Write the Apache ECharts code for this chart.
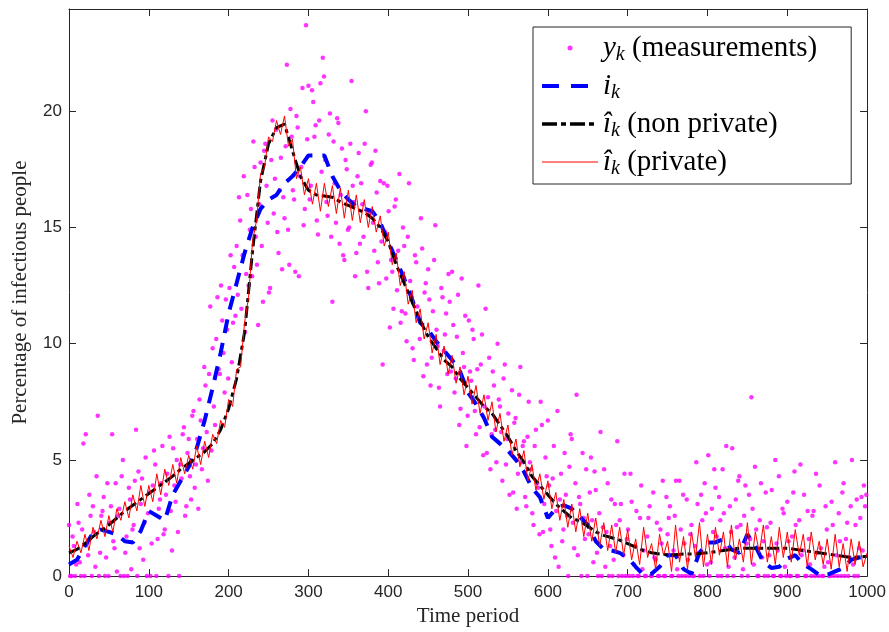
<!DOCTYPE html>
<html><head><meta charset="utf-8">
<script src="https://cdn.jsdelivr.net/npm/echarts@6/dist/echarts.min.js"></script>
<style>html,body{margin:0;padding:0;background:#fff}#c{width:889px;height:632px}</style>
</head><body><div id="c"></div>
<script>
// time step of each sampled array
const measStep = 3;
const measOffsetB = 1.5;
const lineStep = 10;
const privStep = 5;

// y_k measurements (x = 0, 3, 6, ...)
const measurements = [
 2.2,0,1.3,0.5,2.3,0,5.7,6.1,0.9,2.6,
 3.0,0.4,6.9,1.0,2.8,0,4.0,2.3,6.1,1.2,
 0.2,2.9,4.3,0,1.7,3.8,0.3,2.2,6.3,4.5,
 3.1,0.7,5.1,2.7,0,3.9,4.8,1.6,3.3,5.6,
 2.0,4.4,6.0,1.1,3.9,5.0,0,4.2,6.4,3.0,
 5.9,3.3,7.1,4.8,2.9,6.7,5.5,8.2,4.1,11.6,
 9.8,6.5,12.0,8.7,11.0,7.9,10.6,12.4,9.2,13.3,
 14.2,16.3,11.5,17.2,13.0,12.5,15.8,18.7,14.6,10.8,
 17.8,11.8,18.6,15.2,12.4,19.6,17.1,14.8,16.6,13.2,
 15.4,22.0,13.4,18.9,16.2,19.8,12.9,17.6,15.1,23.7,
 21.1,16.8,20.4,19.4,14.7,21.2,22.3,17.9,15.5,19.9,
 11.8,16.9,19.7,14.3,18.4,13.6,17.5,15.0,21.3,16.1,
 13.9,18.2,16.9,14.6,20.0,12.4,17.7,15.2,18.3,13.5,
 17.0,9.1,14.8,16.8,10.7,13.1,15.9,12.3,17.3,11.4,
 14.2,10.1,16.9,12.0,9.3,13.5,11.1,15.4,8.6,12.6,
 13.2,8.2,11.4,15.1,9.9,7.3,12.0,10.4,8.7,11.8,
 13.1,7.9,10.3,6.5,12.8,9.0,5.6,11.0,8.4,10.2,
 6.1,12.5,9.1,5.2,11.5,7.7,4.6,8.8,6.3,10.0,
 7.3,4.1,9.1,5.9,3.5,8.0,6.6,2.9,7.8,4.9,
 5.8,3.0,7.5,4.6,2.2,6.3,3.8,7.5,1.9,5.1,
 6.7,2.0,4.2,0.8,7.1,3.3,1.5,5.3,2.6,4.7,
 5.9,1.2,7.8,3.4,0,2.5,4.6,1.8,5.1,0.6,
 3.7,0,6.2,2.1,0.4,4.0,1.3,0,3.1,5.8,
 2.4,0,4.4,1.6,0,3.2,0.5,2.8,0,3.9,
 1.1,0,2.5,0,3.6,0.7,0,2.0,4.1,0,
 1.8,3.0,0,2.6,0.3,4.1,0,1.4,3.3,0,
 2.2,0,4.9,1.0,3.5,0,2.7,5.2,0.6,1.9,
 3.8,0,2.4,4.6,1.2,0,3.0,5.5,0.8,2.1,
 4.3,0,2.6,1.4,3.5,7.7,0.5,2.0,0,4.0,
 1.5,3.6,0,2.3,0,5.0,1.1,0,2.9,0.4,
 3.2,0,1.7,4.5,0,2.4,0.9,3.5,0,1.6,
 0,2.8,4.4,0,1.2,0,3.0,0.6,0,2.2,
 4.9,0,1.5,3.6,0,2.3,0.8,5.0,0,3.3,
 1.2,3.4,3.9,3.5
];

// more y_k measurements (x = 1.5, 4.5, 7.5, ...)
const measurementsB = [
 0,1.7,0,3.1,0.6,2.0,0,1.4,3.5,0,
 1.9,4.3,0,2.6,3.4,0.8,0,3.0,1.5,4.0,
 2.6,0,5.0,1.0,0,3.3,2.0,4.1,0,1.2,
 4.2,2.3,0,3.6,1.4,5.4,0,2.9,4.0,1.8,
 3.5,0,2.8,5.5,3.2,1.9,4.8,6.1,2.6,5.3,
 4.3,6.9,3.8,5.9,7.6,4.6,9.0,6.2,8.7,5.4,
 7.3,10.2,8.9,12.5,9.6,11.9,8.5,13.8,10.9,11.2,
 12.1,15.3,13.8,10.5,16.4,14.9,12.9,17.6,13.4,16.0,
 14.2,18.3,16.8,12.2,17.9,15.6,19.2,13.9,18.0,16.3,
 18.5,14.9,20.1,16.6,13.1,19.3,17.2,21.0,15.8,18.8,
 16.2,20.9,18.9,15.3,19.6,17.4,21.5,16.1,19.0,14.6,
 18.7,15.2,19.5,16.4,13.8,17.9,14.9,18.6,16.8,12.9,
 17.2,14.3,16.0,18.6,13.1,15.6,17.8,14.0,16.5,12.6,
 14.4,16.9,12.8,15.7,13.6,11.5,16.2,14.0,10.9,15.0,
 11.3,14.6,12.7,9.8,13.8,11.6,10.2,14.1,12.2,9.1,
 11.9,9.4,13.6,10.6,8.1,12.4,9.7,11.3,13.0,8.8,
 10.8,8.5,12.1,7.2,9.6,11.2,6.9,8.8,10.6,7.1,
 8.9,6.4,10.4,7.3,5.3,9.4,6.1,8.2,4.9,7.6,
 6.2,8.5,4.8,7.0,5.3,3.6,6.8,4.4,9.0,5.6,
 3.4,6.0,4.9,2.7,5.6,4.0,1.8,6.5,3.1,4.3,
 3.9,1.3,5.6,2.8,0.4,4.4,2.0,3.5,0,6.1,
 2.3,4.0,0.9,3.1,5.3,1.6,0,3.6,2.4,4.5,
 1.0,2.7,0,4.6,1.9,0,3.3,0.7,2.2,0,
 3.1,0.9,0,2.0,4.4,0,1.3,0,2.5,0.3,
 0,1.7,3.0,0,0.8,2.3,0,1.4,0,3.4,
 2.5,0,1.1,4.1,0,2.0,3.5,0,0.7,1.8,
 0,1.3,3.1,0,2.4,4.0,0.5,0,2.9,4.6,
 1.7,3.4,0,2.7,5.6,0.4,1.9,0,3.3,4.1,
 2.2,0.3,3.9,0,1.6,2.9,4.7,0,2.4,0.8,
 0,2.1,0.9,3.7,0,1.4,4.3,0,2.7,0,
 1.5,0,3.6,2.2,0,4.8,1.1,0,2.8,0.5,
 2.6,0,1.0,3.9,0,0.4,2.0,0,3.2,0,
 0.9,2.7,0,4.0,1.6,0,3.0,0.5,2.2,0,
 2.5,1.1,3.0
];

// i_k true state (x = 0, 10, 20, ...)
const trueI = [
 0.5,0.7,1.3,1.85,2.0,1.9,1.8,1.5,1.45,1.95,
 2.8,2.6,2.4,3.5,4.1,4.7,5.5,6.7,8.1,9.6,
 11.3,12.6,13.9,15.0,15.8,16.2,16.4,16.9,17.2,17.6,
 18.1,18.1,18.1,17.2,16.6,16.2,15.9,15.8,15.7,15.2,
 14.4,13.6,12.8,11.9,10.9,10.6,10.1,9.7,9.3,8.8,
 7.9,7.4,6.8,6.0,5.7,5.4,5.0,4.5,3.8,3.4,
 2.5,2.9,3.05,2.9,2.55,2.2,1.5,1.15,1.1,1.0,
 0.8,0.4,0.05,0.1,0.4,0.9,0.9,0.3,0.1,1.0,
 1.45,1.45,1.6,1.15,1.0,1.8,1.3,0.6,0.35,0.4,
 0.75,0.9,0.5,0.3,0.05,0.05,0.2,0.35,0.7,0.8,
 0.85
];

// hat i_k non private estimate (x = 0, 10, 20, ...)
const nonPrivate = [
 1.0,1.15,1.4,1.7,1.95,2.2,2.5,2.8,3.05,3.3,
 3.55,3.8,4.05,4.3,4.6,4.85,5.1,5.35,5.7,6.3,
 7.2,8.5,10.5,14.0,17.0,18.6,19.3,19.45,18.3,17.2,
 16.6,16.4,16.35,16.3,16.1,15.95,15.8,15.65,15.4,15.0,
 14.4,13.4,12.6,11.8,11.0,10.3,9.8,9.3,9.0,8.5,
 8.1,7.7,7.3,7.0,6.5,6.0,5.4,4.9,4.3,3.9,
 3.5,3.1,2.8,2.5,2.35,2.15,1.9,1.75,1.65,1.55,
 1.4,1.25,1.1,1.0,0.95,0.92,0.92,0.95,0.95,0.97,
 1.0,1.05,1.1,1.15,1.2,1.2,1.2,1.2,1.2,1.2,
 1.2,1.15,1.1,1.05,1.0,0.95,0.9,0.85,0.8,0.82,
 0.85
];

// hat i_k private estimate (x = 0, 5, 10, ...)
const privateEst = [
 1.3,0.8,1.5,1.0,1.8,1.1,2.1,1.6,2.4,1.7, 2.6,1.9,2.9,2.4,3.2,2.5,3.5,2.8,3.9,3.0,
 3.9,3.2,4.4,3.5,4.6,3.9,4.8,4.0,5.1,4.4, 5.2,4.6,5.6,4.8,5.8,5.1,6.1,5.7,6.7,6.4,
 7.6,7.3,8.9,9.0,10.9,12.0,14.4,15.3,17.3,17.6, 18.9,18.7,19.6,19.0,19.8,18.5,18.8,17.1,17.6,16.4,
 17.1,16.0,16.9,15.7,16.9,15.9,16.8,15.6,16.7,15.4, 16.6,15.3,16.4,15.2,16.2,15.0,15.9,14.8,15.5,14.2,
 14.8,13.4,13.9,12.5,13.1,11.7,12.3,10.9,11.5,10.2, 10.9,9.6,10.4,9.1,9.9,8.7,9.5,8.3,9.0,7.8,
 8.6,7.4,8.2,7.0,7.8,6.7,7.5,6.2,7.0,5.8, 6.5,5.2,5.9,4.7,5.4,4.1,4.8,3.7,4.4,3.3,
 4.1,2.9,3.6,2.4,3.3,2.1,3.1,1.9,2.9,1.7, 2.7,1.5,2.5,1.3,2.3,1.1,2.2,1.0,2.1,0.9,
 2.0,0.7,1.6,0.5,2.1,0.8,1.4,0.3,1.8,0.9, 1.5,0.2,2.2,0.6,1.7,0.3,1.9,0.8,2.3,0.4,
 1.8,0.5,2.1,0.9,1.9,0.4,2.2,0.7,1.6,0.6, 2.3,0.5,1.9,1.0,2.2,0.6,1.7,0.5,2.1,0.8,
 1.9,0.6,2.0,0.9,1.8,0.4,1.9,0.7,1.5,0.5, 1.6,0.3,1.8,0.4,1.4,0.2,1.6,0.5,1.5,0.4,
 1.0
];

const xMin = 0, xMax = 1000, xInterval = 100;
const yMin = 0, yMax = 24.4, yInterval = 5;

const toPairs = (arr, step, offset) => arr.map((v, i) => [(offset || 0) + i * step, v]);

const axisColor = '#262626';
const sans = 'Liberation Sans, Arial, Helvetica, sans-serif';
const serif = 'Liberation Serif, Times New Roman, serif';

const legendText = {
  meas: '{it|y}{sb|k}{rm| (measurements)}',
  truth: '{it|i}{sb|k}',
  np: '{it|î}{sb|k}{rm| (non private)}',
  priv: '{it|î}{sb|k}{rm| (private)}'
};

const baseAxis = (extra) => Object.assign({
  axisLine: {show: true, onZero: false, lineStyle: {color: axisColor, width: 1}},
  axisTick: {show: true, inside: true, length: 7, lineStyle: {color: axisColor}},
  splitLine: {show: false}
}, extra);

const chart = echarts.init(document.getElementById('c'), null, {renderer: 'canvas'});
chart.setOption({
  animation: false,
  backgroundColor: '#fff',
  grid: {left: 69, right: 20, top: 9, bottom: 52, containLabel: false},
  legend: {
    orient: 'vertical',
    left: 533, top: 27,
    padding: [4, 34, 5, 7],
    itemWidth: 56, itemHeight: 5, itemGap: 4,
    borderColor: axisColor, borderWidth: 1, borderRadius: 0,
    backgroundColor: '#fff',
    selectedMode: false,
    formatter: name => legendText[name],
    textStyle: {
      color: '#000',
      rich: {
        it: {fontFamily: serif, fontStyle: 'italic', fontSize: 29, lineHeight: 30, color: '#000'},
        sb: {fontFamily: serif, fontStyle: 'italic', fontSize: 20, lineHeight: 10, padding: [14, 0, 0, 0], color: '#000'},
        rm: {fontFamily: serif, fontSize: 29, lineHeight: 30, color: '#000'}
      }
    },
    data: [
      {name: 'meas', icon: 'circle'},
      {name: 'truth', itemStyle: {opacity: 0}, lineStyle: {color: '#0000ff', width: 4, type: [17, 12]}},
      {name: 'np', itemStyle: {opacity: 0}, lineStyle: {color: '#000', width: 3.5, type: [15, 4, 5, 4]}},
      {name: 'priv', itemStyle: {opacity: 0}, lineStyle: {color: '#ff0000', width: 1, type: 'solid'}}
    ]
  },
  xAxis: [
    baseAxis({
      type: 'value', min: xMin, max: xMax, interval: xInterval, position: 'bottom',
      name: 'Time period', nameLocation: 'middle', nameGap: 27,
      nameTextStyle: {fontFamily: serif, fontSize: 21, color: axisColor},
      axisLabel: {fontFamily: sans, fontSize: 17, color: axisColor, margin: 8, formatter: v => String(v)}
    }),
    baseAxis({
      type: 'value', min: xMin, max: xMax, interval: xInterval, position: 'top',
      axisLabel: {show: false}
    })
  ],
  yAxis: [
    baseAxis({
      type: 'value', min: yMin, max: yMax, interval: yInterval, position: 'left',
      name: 'Percentage of infectious people', nameLocation: 'middle', nameGap: 38,
      nameTextStyle: {fontFamily: serif, fontSize: 21, color: axisColor},
      axisLabel: {fontFamily: sans, fontSize: 17, color: axisColor, margin: 7, showMaxLabel: false,
        formatter: v => (v % yInterval === 0 ? String(v) : '')}
    }),
    baseAxis({
      type: 'value', min: yMin, max: yMax, interval: yInterval, position: 'right',
      axisLabel: {show: false}
    })
  ],
  series: [
    {
      name: 'meas', type: 'scatter', xAxisIndex: 0, yAxisIndex: 0,
      data: toPairs(measurements, measStep, 0).concat(toPairs(measurementsB, measStep, measOffsetB)),
      symbol: 'circle', symbolSize: 4.5,
      itemStyle: {color: '#ff00ff'}
    },
    {
      name: 'truth', type: 'line', xAxisIndex: 0, yAxisIndex: 0,
      data: toPairs(trueI, lineStep, 0),
      showSymbol: false, symbol: 'none',
      lineStyle: {color: '#0000ff', width: 4, type: [14, 10]},
      itemStyle: {color: '#0000ff'}
    },
    {
      name: 'np', type: 'line', xAxisIndex: 0, yAxisIndex: 0,
      data: toPairs(nonPrivate, lineStep, 0),
      showSymbol: false, symbol: 'none',
      lineStyle: {color: '#000', width: 3, type: [12, 4, 4, 4]},
      itemStyle: {color: '#000'}
    },
    {
      name: 'priv', type: 'line', xAxisIndex: 0, yAxisIndex: 0,
      data: toPairs(privateEst, privStep, 0),
      showSymbol: false, symbol: 'none',
      lineStyle: {color: '#ff0000', width: 1},
      itemStyle: {color: '#ff0000'}
    }
  ]
});
</script>
</body></html>
